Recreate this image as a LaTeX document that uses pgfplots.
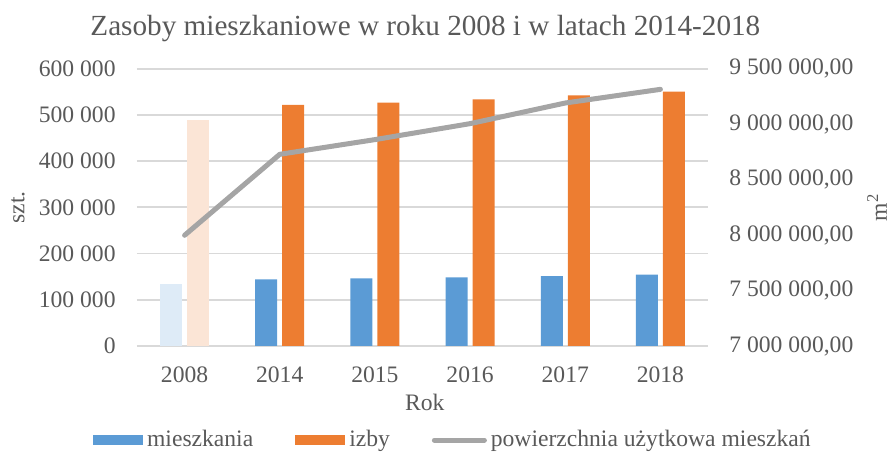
\documentclass[border=0pt]{standalone}
\usepackage{fontspec}
\setmainfont{Liberation Serif}
\usepackage{pgfplots}
\pgfplotsset{compat=1.18}
\definecolor{txt}{HTML}{595959}
\definecolor{gridc}{HTML}{D9D9D9}
\definecolor{cblue}{HTML}{5B9BD5}
\definecolor{corange}{HTML}{ED7D31}
\definecolor{cgray}{HTML}{A5A5A5}
\definecolor{lblue}{HTML}{DEEBF7}
\definecolor{lorange}{HTML}{FBE5D6}
\newcommand{\fs}{\fontsize{11.8bp}{14bp}\selectfont}
\pgfplotsset{
  mybarlegend/.style={legend image code/.code={\fill[##1] (0bp,-2.5bp) rectangle (25bp,2.5bp);}},
  mylinelegend/.style={legend image code/.code={\draw[##1] (1bp,0bp) -- (26bp,0bp);}},
}
\begin{document}
\begin{tikzpicture}
\useasboundingbox (-68.5bp,-53bp) rectangle (376.5bp,173bp);
\begin{axis}[
  at={(0,0)}, anchor=south west,
  scale only axis, width=285.5bp, height=138.7bp,
  xmin=-0.5, xmax=5.5, ymin=0, ymax=600000,
  xtick={0,1,2,3,4,5}, xticklabels={2008,2014,2015,2016,2017,2018},
  ytick={0,100000,200000,300000,400000,500000,600000},
  scaled y ticks=false,
  axis line style={draw=none},
  major tick length=0pt,
  ymajorgrids, grid style={draw=gridc, line width=0.9bp},
  xticklabel style={anchor=center, yshift=-14.5bp, font=\fs, text=txt},
  yticklabel style={anchor=east, inner sep=0pt, xshift=-10.5bp, font=\fs, text=txt,
    /pgf/number format/.cd, fixed, 1000 sep={\ }, assume math mode=true},
  every axis title shift=0pt,
  title={Zasoby mieszkaniowe w roku 2008 i w latach 2014-2018},
  title style={at={(axis description cs:0.505,1.121)}, anchor=base, yshift=0pt, inner sep=0pt, font=\fontsize{14.6bp}{17bp}\selectfont, text=txt},
  xlabel={Rok},
  xlabel style={at={(axis description cs:0.504,-0.202)}, anchor=center, font=\fs, text=txt},
  ylabel={szt.},
  ylabel style={at={(axis description cs:-0.2084,0.5)}, anchor=center, font=\fs, text=txt},
  legend style={at={(axis description cs:0.555,-0.339)}, anchor=center, draw=none, fill=none,
    font=\fs, text=txt, inner sep=0pt, nodes={inner sep=2bp},
    /tikz/every even column/.append style={column sep=19bp}},
  legend columns=3,
]
\addplot[ybar, bar width=11bp, bar shift=-6.75bp, fill=lblue, draw=none, forget plot]
  coordinates {(0,133500)};
\addplot[ybar, bar width=11bp, bar shift=6.75bp, fill=lorange, draw=none, forget plot]
  coordinates {(0,488200)};
\addplot[ybar, bar width=11bp, bar shift=-6.75bp, fill=cblue, draw=none, mybarlegend]
  coordinates {(1,144300) (2,146400) (3,148600) (4,151400) (5,154400)};
\addplot[ybar, bar width=11bp, bar shift=6.75bp, fill=corange, draw=none, mybarlegend]
  coordinates {(1,521300) (2,526500) (3,533600) (4,542300) (5,550300)};
\addlegendimage{cgray, line width=2.5bp, line cap=round, mylinelegend}
\legend{mieszkania, izby, powierzchnia użytkowa mieszkań}
\end{axis}
\begin{axis}[
  at={(0,0)}, anchor=south west,
  scale only axis, width=285.5bp, height=138.7bp,
  xmin=-0.5, xmax=5.5, ymin=7000000, ymax=9500000,
  axis y line*=right, axis x line=none,
  ytick={7000000,7500000,8000000,8500000,9000000,9500000},
  scaled y ticks=false,
  axis line style={draw=none},
  major tick length=0pt,
  yticklabel style={anchor=west, inner sep=0pt, xshift=10.5bp, font=\fs, text=txt,
    /pgf/number format/.cd, fixed, fixed zerofill, precision=2, use comma, 1000 sep={\ }, assume math mode=true},
  ylabel={m\textsuperscript{2}},
  ylabel style={at={(axis description cs:1.296,0.5)}, anchor=center, rotate=0, font=\fs, text=txt},
]
\addplot[cgray, line width=2.5bp, line cap=round, line join=round, mark=none]
  coordinates {(0,7997700) (1,8727600) (2,8860000) (3,9004000) (4,9190000) (5,9313000)};
\end{axis}
\end{tikzpicture}
\end{document}
